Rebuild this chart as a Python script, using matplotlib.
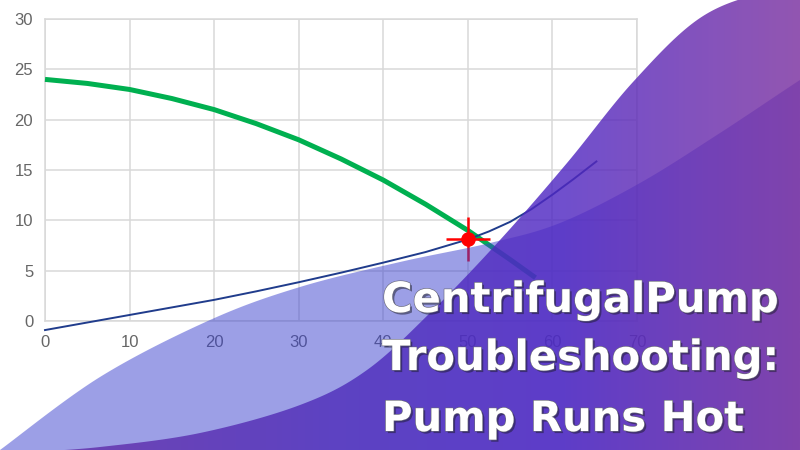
import numpy as np
import matplotlib
matplotlib.use("Agg")
import matplotlib.pyplot as plt
from matplotlib.path import Path
from matplotlib.patches import PathPatch
import matplotlib.patheffects as pe

# ---------------- data ----------------
pump_q = [0, 5, 10, 15, 20, 25, 30, 35, 40, 45, 50, 55, 58]
pump_h = [24.0, 23.6, 23.0, 22.1, 21.0, 19.6, 18.0, 16.1, 14.0, 11.6, 9.0, 6.1, 4.3]

system_q = [0, 5, 10, 15, 20, 25, 30, 35, 40, 45, 50, 52.5, 55, 57.5, 60, 62.5, 65.2]
system_h = [-0.9, -0.15, 0.6, 1.35, 2.1, 2.95, 3.85, 4.8, 5.8, 6.85, 8.1, 8.9, 9.85, 11.1, 12.55, 14.1, 15.85]

op_q = [50]
op_h = [8.1]

x_ticks = [0, 10, 20, 30, 40, 50, 60, 70]
y_ticks = [0, 5, 10, 15, 20, 25, 30]

title_lines = ["CentrifugalPump", "Troubleshooting:", "Pump Runs Hot"]

# ---------------- figure ----------------
W, H = 800, 450
fig = plt.figure(figsize=(8, 4.5), dpi=100)
fig.patch.set_facecolor("white")

ax = fig.add_axes([45 / W, 1 - 321 / H, 592 / W, 302 / H])
ax.set_xlim(0, 70)
ax.set_ylim(0, 30)
ax.set_xticks(x_ticks)
ax.set_yticks(y_ticks)
ax.grid(True, color="#d9d9d9", lw=1.1)
ax.set_axisbelow(True)
for s in ax.spines.values():
    s.set_color("#d9d9d9")
    s.set_linewidth(1.1)
ax.tick_params(length=0, labelsize=12, labelcolor="#666666")
ax.tick_params(axis="y", pad=8.5)
ax.tick_params(axis="x", pad=10)
for lab in ax.get_xticklabels() + ax.get_yticklabels():
    lab.set_fontfamily(["Liberation Sans", "DejaVu Sans"])

ax.plot(pump_q, pump_h, color="#00b050", lw=3.6, solid_capstyle="butt", zorder=3, clip_on=False)
ax.plot(system_q, system_h, color="#203c8c", lw=1.4, zorder=4, clip_on=False)
ax.plot(op_q, op_h, marker="+", ms=32, mew=1.8, color="#ff0000", ls="none", zorder=5, clip_on=False)
ax.plot(op_q, op_h, marker="o", ms=9.5, color="#ff0000", ls="none", zorder=6, clip_on=False)

# ---------------- decorative overlay ----------------
ov = fig.add_axes([0, 0, 1, 1], zorder=5)
ov.set_xlim(0, W)
ov.set_ylim(H, 0)
ov.axis("off")
ov.patch.set_alpha(0)


def smooth(pts, n=30):
    p = np.asarray(pts, float)
    p = np.vstack([p[0], p, p[-1]])
    out = []
    for i in range(1, len(p) - 2):
        p0, p1, p2, p3 = p[i - 1], p[i], p[i + 1], p[i + 2]
        t = np.linspace(0, 1, n, endpoint=False)[:, None]
        seg = 0.5 * ((2 * p1) + (-p0 + p2) * t + (2 * p0 - 5 * p1 + 4 * p2 - p3) * t ** 2
                     + (-p0 + 3 * p1 - 3 * p2 + p3) * t ** 3)
        out.append(seg)
    out.append(p[-2][None, :])
    return np.vstack(out)


light_edge = [(-10, 457), (0, 450), (100, 377), (210, 320), (300, 287), (400, 262),
              (490, 243), (560, 223), (640, 183), (720, 133), (800, 80), (830, 62)]
dark_edge = [(30, 452), (100, 447), (200, 433), (300, 405), (367, 370), (433, 310),
             (500, 240), (567, 163), (633, 82), (700, 18), (767, -8), (833, -15)]

le = smooth(light_edge)
light_poly = np.vstack([le, [(830, 470), (-10, 470)]])
light_patch = PathPatch(Path(np.vstack([light_poly, light_poly[:1]]), closed=True),
                        facecolor=(59 / 255, 65 / 255, 206 / 255), edgecolor="none", alpha=0.5)
ov.add_patch(light_patch)

de = smooth(dark_edge)
dark_poly = np.vstack([de, [(833, 470), (30, 470)]])
dark_patch = PathPatch(Path(np.vstack([dark_poly, dark_poly[:1]]), closed=True),
                       facecolor="none", edgecolor="none")
ov.add_patch(dark_patch)

stops = np.array([0.0, 0.45, 0.7, 1.0])
cols = np.array([[104, 48, 165], [78, 46, 188], [80, 40, 195], [122, 48, 160]]) / 255.0
xs = np.linspace(0, 1, 400)
grad = np.stack([np.interp(xs, stops, cols[:, k]) for k in range(3)], axis=-1)[None, :, :]
im = ov.imshow(grad, extent=[0, W, H, 0], aspect="auto", alpha=0.82, interpolation="bilinear", zorder=2)
im.set_clip_path(dark_patch)

# ---------------- title ----------------
baselines = [312, 370, 431]
for txt, yb in zip(title_lines, baselines):
    ov.text(382, yb, txt, color="white", fontsize=30, fontweight="bold",
            family=["DejaVu Sans"], va="baseline", ha="left", zorder=10,
            path_effects=[pe.SimplePatchShadow(offset=(1.5, -1.5), shadow_rgbFace="#1a1a2a", alpha=0.5),
                          pe.withStroke(linewidth=0.9, foreground="#6a6a7a")])

fig.savefig("out.png", dpi=100)
